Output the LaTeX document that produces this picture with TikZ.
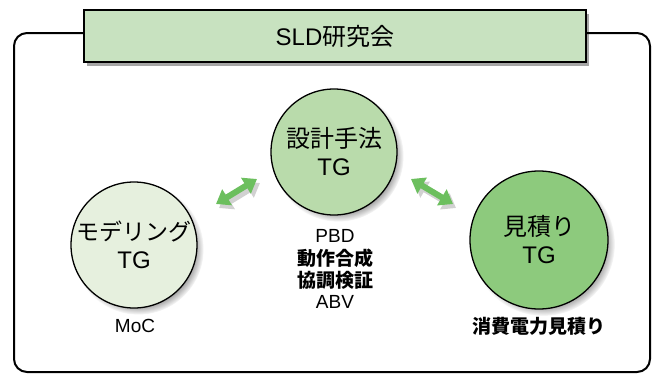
\documentclass[tikz,border=0pt]{standalone}
\usepackage{fontspec}
\setmainfont{Liberation Sans}
\newfontfamily\jp{Noto Sans CJK JP}
\usetikzlibrary{shadows,arrows.meta}
\definecolor{titlefill}{HTML}{C8E2C0}
\definecolor{lightc}{HTML}{E6F0DE}
\definecolor{midc}{HTML}{B9DBAB}
\definecolor{darkc}{HTML}{8DCA7D}
\definecolor{arrowc}{HTML}{6CBF5E}
\tikzset{
  frame/.style={line width=2pt, rounded corners=13pt},
  titlebox/.style={draw=black, line width=2.8pt, fill=titlefill, inner sep=0pt,
    minimum width=502pt, minimum height=52pt,
    font=\fontsize{24}{28}\selectfont,
    drop shadow={shadow xshift=3pt, shadow yshift=-4pt, opacity=.35, fill=black}},
  tg/.style={circle, draw=black, line width=1.3pt, inner sep=0pt, align=center,
    font=\fontsize{24}{28}\selectfont,
    circular drop shadow={shadow xshift=4pt, shadow yshift=-4pt, shadow scale=1.04, opacity=.8}},
  lbl/.style={font=\fontsize{19}{22}\selectfont, inner sep=0pt},
  blbl/.style={font=\fontsize{19}{22}\selectfont\jp\bfseries, inner sep=0pt},
  garrow/.style={line width=6pt, draw=arrowc,
    {Triangle[width=18pt,length=13pt]}-{Triangle[width=18pt,length=13pt]}},
  garrowshadow/.style={line width=6pt, draw=black!18,
    {Triangle[width=18pt,length=13pt]}-{Triangle[width=18pt,length=13pt]}}
}
\begin{document}
\begin{tikzpicture}[x=1pt,y=-1pt]
\useasboundingbox (0,0) rectangle (661,375);
\draw[frame] (14,33) rectangle (650,372);
\node[titlebox] (title) at (335,36) {SLD{\jp 研究会}};

\node[tg, fill=midc, minimum size=126pt] (design) at (334,152) {{\jp 設計手法}\\TG};
\node[tg, fill=lightc, minimum size=126pt] (model) at (134,245) {{\jp\fontsize{23}{28}\selectfont モデリング}\\TG};
\node[tg, fill=darkc, minimum size=138pt] (est) at (539,240) {{\jp 見積り}\\TG};

\node[lbl] (pbd) at (335,236) {PBD};
\node[blbl] (synth) at (335,258) {動作合成};
\node[blbl] (cosim) at (335,280) {協調検証};
\node[lbl] (abv) at (335,302) {ABV};
\node[lbl] (moc) at (135,326) {MoC};
\node[blbl] (power) at (539,326) {消費電力見積り};

\coordinate (la1) at (216,204);
\coordinate (la2) at (257,179);
\coordinate (ra1) at (411,179);
\coordinate (ra2) at (453,204);
\coordinate (ls1) at (219,208);
\coordinate (ls2) at (260,183);
\coordinate (rs1) at (414,183);
\coordinate (rs2) at (456,208);
\draw[garrowshadow] (ls1) -- (ls2);
\draw[garrowshadow] (rs1) -- (rs2);
\draw[garrow] (la1) -- (la2);
\draw[garrow] (ra1) -- (ra2);
\end{tikzpicture}
\end{document}
